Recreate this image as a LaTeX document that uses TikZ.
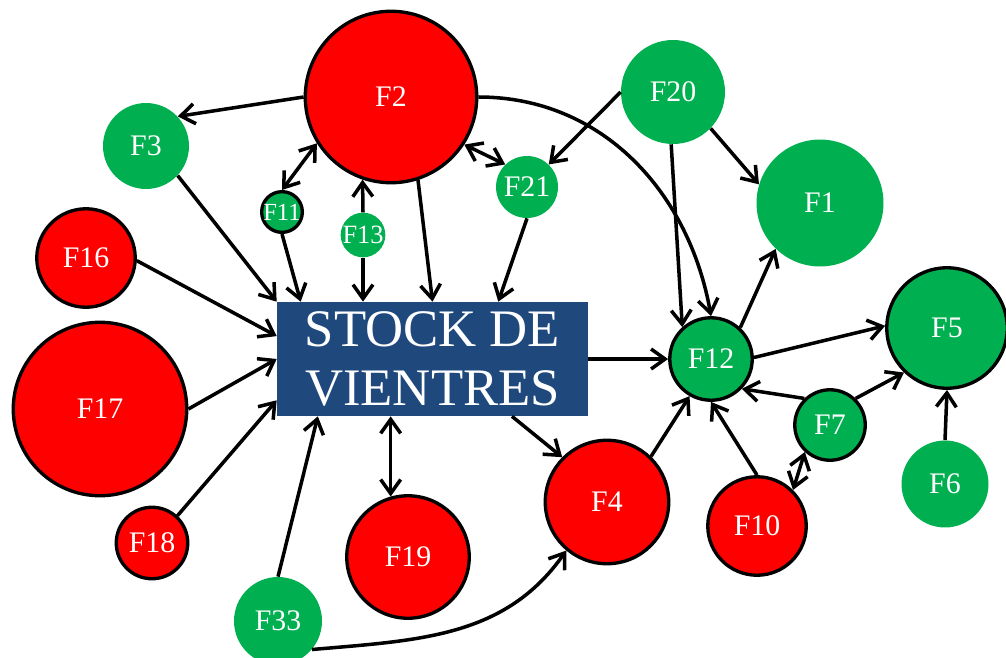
\documentclass[tikz,border=0pt]{standalone}
\usepackage{fontspec}
\setmainfont{Liberation Serif}
\usepackage{tikz}
\usetikzlibrary{arrows.meta, positioning, calc}

\definecolor{rojo}{HTML}{FF0000}
\definecolor{verde}{HTML}{00B050}
\definecolor{azul}{HTML}{1F497D}

\begin{document}
\begin{tikzpicture}[x=0.02cm, y=0.02cm,
	finca/.style={circle, inner sep=0pt, text=white, font=\fontsize{17}{17}\selectfont},
	roja/.style={finca, fill=rojo, draw=black, line width=1.9pt},
	verdeb/.style={finca, fill=verde, draw=black, line width=1.9pt},
	verdes/.style={finca, fill=verde},
	flecha/.style={line width=2pt, -{Straight Barb[length=2.8mm, width=4mm]}},
	doble/.style={line width=2pt, {Straight Barb[length=2.8mm, width=4mm]}-{Straight Barb[length=2.8mm, width=4mm]}}]
	
	\useasboundingbox (0,0) rectangle (1006,657);
	
	\node [fill=azul, minimum width=6.22cm, minimum height=2.28cm, inner sep=0pt, text=white, align=center,
	       font=\fontsize{30}{34}\selectfont] (stock) at (432.5,298) {STOCK DE\\VIENTRES};
	
	\foreach \n/\x/\y/\d in {F2/391/560/3.43, F16/86/399/1.97, F17/100/248/3.47, F18/152/114/1.43,
	                         F19/408/100/2.45, F4/607/155/2.47, F10/757/131/1.97}
	\node [roja, minimum size=\d cm] (\n) at (\x,\y) {\n};
	
	\foreach \n/\x/\y/\d in {F12/711/298/1.65, F5/947/329/2.41, F7/830/232/1.41}
	\node [verdeb, minimum size=\d cm] (\n) at (\x,\y) {\n};
	
	\foreach \n/\x/\y/\d in {F3/146/511/1.72, F20/673/565/2.08, F1/820/454/2.54, F21/527/470/1.24,
	                         F6/945/173/1.74, F33/278/36/1.76}
	\node [verdes, minimum size=\d cm] (\n) at (\x,\y) {\n};
	
	\node [verdeb, minimum size=0.79cm, font=\fontsize{14}{14}\selectfont] (F11) at (282,445) {F11};
	\node [verdes, minimum size=0.88cm, font=\fontsize{15}{15}\selectfont] (F13) at (363,422) {F13};
	
	% entradas al stock
	\draw[flecha] (F3.-43) -- (stock.north west);
	\draw[flecha] (F11.south) -- ($(stock.north west)!0.077!(stock.north east)$);
	\draw[flecha] (F13.south) -- (F13.south |- stock.north);
	\draw[flecha] (F2.-72) -- (stock.north);
	\draw[flecha] (F21.south) -- ($(stock.north west)!0.711!(stock.north east)$);
	\draw[flecha] (F16.-3) -- ($(stock.north west)!0.30!(stock.south west)$);
	\draw[flecha] (F17.east) -- (stock.west);
	\draw[flecha] (F18.47) -- ($(stock.north west)!0.86!(stock.south west)$);
	\draw[flecha] (F33.north) -- ($(stock.south west)!0.132!(stock.south east)$);
	\draw[doble] (F19.106 |- stock.south) -- (F19.106);
	
	% salidas
	\draw[flecha] (stock.east) -- (F12.west);
	\draw[flecha] ($(stock.south west)!0.755!(stock.south east)$) -- (F4.135);
	
	\draw[flecha] (F2.west) -- (F3.43);
	\draw[doble] (F11.north) -- (F2.212);
	\draw[flecha] (F13.north) -- (F2.251);
	\draw[doble] (F2.-33) -- (F21.134);
	\draw[flecha] (F2.east) to[out=0, in=100] (F12.north);
	\draw[flecha] (F20.west) -- (F21.46);
	\draw[flecha] (F20.-92) -- (F12.132);
	\draw[flecha] (F20.-44) -- (F1.163);
	\draw[flecha] (F12.47) -- (F1.-134);
	\draw[flecha] (F12.2) -- (F5.178);
	\draw[flecha] (F7.134) -- (F12.-44);
	\draw[flecha] (F7.46) -- (F5.-134);
	\draw[flecha] (F6.north) -- (F5.south);
	\draw[flecha] (F10.north) -- (F12.south);
	\draw[doble] (F10.45) -- (F7.-133);
	\draw[flecha] (F4.46) -- (F12.-120);
	\draw[flecha] (F33.-40) to[out=5, in=-125] (F4.-130);
	
\end{tikzpicture}
\end{document}
